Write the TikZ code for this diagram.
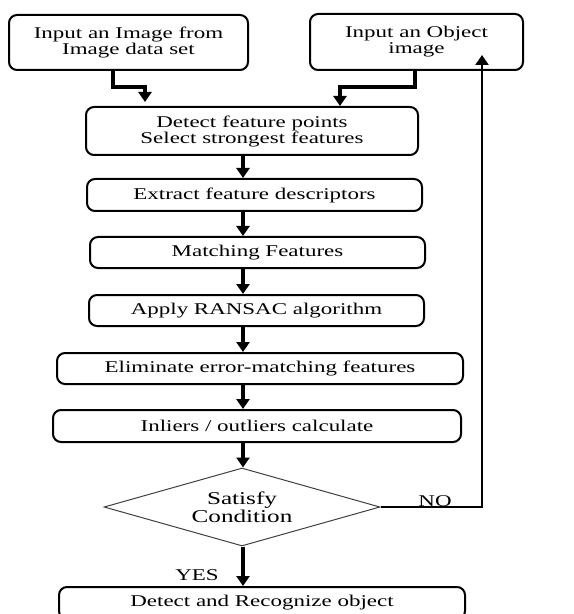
\documentclass[tikz,border=0pt]{standalone}
\usepackage{fontspec}
\setmainfont{Liberation Serif}[FakeStretch=1.4]
\usetikzlibrary{shapes.geometric,arrows.meta}

\begin{document}
\begin{tikzpicture}[x=0.5pt, y=-0.5pt,
  every node/.style={font=\fontsize{8.2}{8}\selectfont},
  box/.style={draw, line width=1pt, rounded corners=4pt, align=center, inner sep=0pt},
  cond/.style={diamond, draw=black!75, line width=0.5pt, aspect=3.5, inner sep=0pt, align=center,
    font=\fontsize{9}{9}\selectfont},
  arr/.style={line width=1.6pt, -{Triangle[width=6.5pt,length=5pt]}}]
\useasboundingbox (0,0) rectangle (573,614);

\node [box, minimum width=119.5pt, minimum height=27.5pt] (inimg) at (128.5,42.5) {Input an Image from\\Image data set};
\node [box, minimum width=106.5pt, minimum height=28pt] (inobj) at (416.5,42) {Input an Object\\image};
\node [box, minimum width=166pt, minimum height=24pt] (detect) at (252,131) {Detect feature points\\Select strongest features};
\node [box, minimum width=167.5pt, minimum height=16pt] (extract) at (254.5,195) {Extract feature descriptors};
\node [box, minimum width=167.5pt, minimum height=15.5pt] (match) at (257.5,252.5) {Matching Features};
\node [box, minimum width=167.5pt, minimum height=15.5pt] (ransac) at (256.5,310.5) {Apply RANSAC algorithm};
\node [box, minimum width=203pt, minimum height=15.5pt] (elim) at (260,368.5) {Eliminate error-matching features};
\node [box, minimum width=204pt, minimum height=16pt] (inl) at (257,426) {Inliers / outliers calculate};
\node [cond, minimum width=138pt, minimum height=39pt] (dec) at (242,507) {Satisfy\\Condition};
\node [box, minimum width=203pt, minimum height=16pt] (recog) at (262,603) {Detect and Recognize object};

\coordinate (ax) at (243,0);
\coordinate (k1) at (113,87);
\coordinate (k2) at (145,87);
\coordinate (k3) at (415,87);
\coordinate (k4) at (340,87);
\coordinate (ret) at (482,55);

\draw [arr, shorten >=2pt] (inimg.south -| k1) |- (k2) -- (detect.north -| k2);
\draw [arr] (inobj.south -| k3) |- (k4) -- (detect.north -| k4);
\draw [arr] (detect.south -| ax) -- (extract.north -| ax);
\draw [arr] (extract.south -| ax) -- (match.north -| ax);
\draw [arr] (match.south -| ax) -- (ransac.north -| ax);
\draw [arr] (ransac.south -| ax) -- (elim.north -| ax);
\draw [arr] (elim.south -| ax) -- (inl.north -| ax);
\draw [arr] (inl.south -| ax) -- (dec.north -| ax);
\draw [arr] (dec.south -| ax) -- (recog.north -| ax);
\draw [arr, line width=1.1pt] (dec.east) -| (ret);

\node (yes) at (197,575) {YES};
\node [anchor=base, inner sep=0pt] (no) at (435,506) {NO};
\end{tikzpicture}
\end{document}
